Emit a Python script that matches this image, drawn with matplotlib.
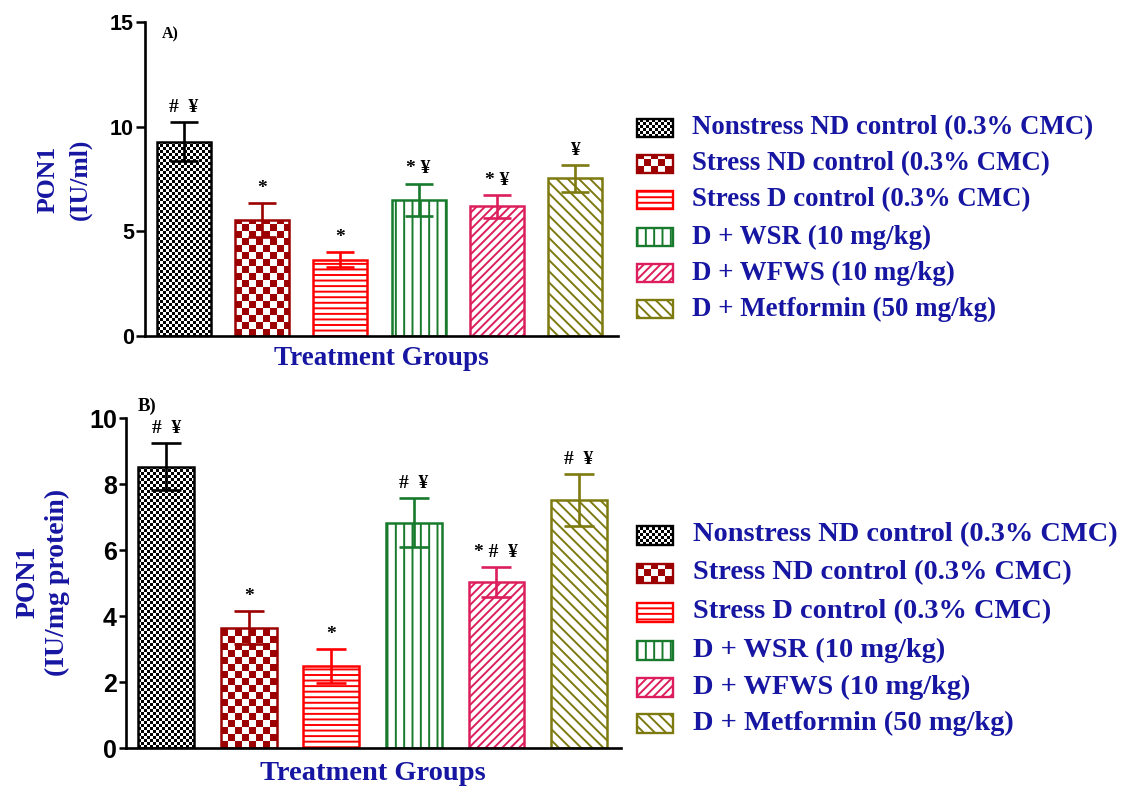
import numpy as np
import matplotlib
matplotlib.use("Agg")
import matplotlib.pyplot as plt
from matplotlib.patches import Rectangle
from matplotlib.colors import to_rgb

# ---------------- data ----------------
groups = [
    "Nonstress ND control (0.3% CMC)",
    "Stress ND control (0.3% CMC)",
    "Stress D control (0.3% CMC)",
    "D + WSR (10 mg/kg)",
    "D + WFWS (10 mg/kg)",
    "D + Metformin (50 mg/kg)",
]
pon1_serum = [9.28, 5.54, 3.65, 6.50, 6.20, 7.53]          # IU/ml
pon1_serum_sem = [0.93, 0.80, 0.35, 0.78, 0.54, 0.65]
pon1_tissue = [8.52, 3.65, 2.49, 6.83, 5.02, 7.52]         # IU/mg protein
pon1_tissue_sem = [0.71, 0.50, 0.51, 0.74, 0.45, 0.78]
marks_serum = ["#  \u00a5", "*", "*", "* \u00a5", "* \u00a5", "\u00a5"]
marks_tissue = ["#  \u00a5", "*", "*", "#  \u00a5", "* #  \u00a5", "#  \u00a5"]
yticks_serum = [0, 5, 10, 15]
yticks_tissue = [0, 2, 4, 6, 8, 10]

# ---------------- style ----------------
colors = ["#000000", "#9c0000", "#ff0000", "#177a2c", "#dc1f5c", "#7d7a10"]
fills = [("checker", 3), ("checker", 7), "---", "||", "////", "\\" * 3]
TEXT_BLUE = "#1616a2"
SERIF = "Liberation Serif"
SANS = "Liberation Sans"

W, H = 1124, 787
DPI = 100
plt.rcParams["hatch.linewidth"] = 1.4
fig = plt.figure(figsize=(W / DPI, H / DPI), dpi=DPI)


def fx(px):
    return px / W


def fy(py_top):
    return 1 - py_top / H


def checker_rgb(h, w, cell, color):
    yy, xx = np.mgrid[0:h, 0:w]
    mask = ((yy // cell) + (xx // cell)) % 2 == 0
    rgb = np.ones((h, w, 3))
    rgb[mask] = to_rgb(color)
    return rgb


def put_checker(x0, y0, x1, y1, cell, color):
    """Fill a display-pixel box (origin bottom-left) with a checkerboard."""
    xo, yo = int(round(x0)), int(round(y0))
    w, h = int(round(x1)) - xo, int(round(y1)) - yo
    if w > 0 and h > 0:
        fig.figimage(checker_rgb(h, w, cell, color), xo=xo, yo=yo,
                     origin="lower", zorder=0.5)


def panel(rect_px, values, sems, marks, yticks, ylim, xlim, width,
          ylab, ylab_xy, ylab_size, ylab_spacing, xlab_xy, xlab_size,
          tag, tag_xy, tag_size, tick_size, tick_len, capsize, mark_size):
    left, top, right, bottom = rect_px
    ax = fig.add_axes([fx(left), fy(bottom), fx(right - left), (bottom - top) / H])
    ax.set_zorder(1)
    ax.patch.set_visible(False)
    ax.set_xlim(*xlim)
    ax.set_ylim(*ylim)
    x = np.arange(len(values))
    for i, (v, s) in enumerate(zip(values, sems)):
        c = colors[i]
        f = fills[i]
        if isinstance(f, tuple):
            ax.bar(x[i], v, width, facecolor="none", edgecolor=c,
                   linewidth=1.8, zorder=2)
            (px0, py0) = ax.transData.transform((x[i] - width / 2, 0))
            (px1, py1) = ax.transData.transform((x[i] + width / 2, v))
            put_checker(px0, py0, px1, py1, f[1], c)
        else:
            ax.bar(x[i], v, width, facecolor="white", edgecolor=c,
                   linewidth=1.8, hatch=f, zorder=2)
        ax.errorbar(x[i], v, yerr=s, fmt="none", ecolor=c, elinewidth=1.9,
                    capsize=capsize, capthick=1.9, zorder=3)
        ax.annotate(marks[i], xy=(x[i], v + s), xytext=(0, 4.5),
                    textcoords="offset points", ha="center", va="bottom",
                    fontsize=mark_size, fontweight="bold", family=SERIF,
                    color="black")
    for sp in ("top", "right"):
        ax.spines[sp].set_visible(False)
    for sp in ("left", "bottom"):
        ax.spines[sp].set_linewidth(1.9)
    ax.set_xticks([])
    ax.set_yticks(yticks)
    ax.tick_params(axis="y", length=tick_len, width=1.8, pad=1.5,
                   labelsize=tick_size)
    for lab in ax.get_yticklabels():
        lab.set_family(SANS)
        lab.set_fontweight("bold")
    fig.text(fx(ylab_xy[0]), fy(ylab_xy[1]), ylab, rotation=90, ha="center",
             va="center", multialignment="center", fontsize=ylab_size,
             fontweight="bold", family=SERIF, color=TEXT_BLUE,
             linespacing=ylab_spacing)
    fig.text(fx(xlab_xy[0]), fy(xlab_xy[1]), "Treatment Groups", ha="center",
             va="center", fontsize=xlab_size, fontweight="bold", family=SERIF,
             color=TEXT_BLUE)
    fig.text(fx(tag_xy[0]), fy(tag_xy[1]), tag, ha="center", va="center",
             fontsize=tag_size, fontweight="bold", family=SERIF, color="black")
    return ax


def legend(rows_y, box_x0, box_x1, box_h, text_x, size):
    for i, label in enumerate(groups):
        yc = rows_y[i]
        c = colors[i]
        f = fills[i]
        y_bot = H - (yc + box_h / 2)
        if isinstance(f, tuple):
            put_checker(box_x0, y_bot, box_x1, y_bot + box_h, f[1], c)
            r = Rectangle((fx(box_x0), fy(yc + box_h / 2)), fx(box_x1 - box_x0),
                          box_h / H, facecolor="none", edgecolor=c,
                          linewidth=1.7, transform=fig.transFigure, zorder=2)
        else:
            r = Rectangle((fx(box_x0), fy(yc + box_h / 2)), fx(box_x1 - box_x0),
                          box_h / H, facecolor="white", edgecolor=c,
                          linewidth=1.7, hatch=f, transform=fig.transFigure,
                          zorder=2)
        fig.add_artist(r)
        fig.text(fx(text_x), fy(yc), label, ha="left", va="center",
                 fontsize=size, fontweight="bold", family=SERIF,
                 color=TEXT_BLUE)


# Panel A: serum PON1
panel(rect_px=(145, 22, 618, 336), values=pon1_serum, sems=pon1_serum_sem,
      marks=marks_serum, yticks=yticks_serum, ylim=(0, 15), xlim=(-0.5, 5.55),
      width=0.69, ylab="PON1\n(IU/ml)", ylab_xy=(64, 179), ylab_size=18.5,
      ylab_spacing=1.5, xlab_xy=(381, 358), xlab_size=19.5, tag="A)",
      tag_xy=(170, 34), tag_size=11.5, tick_size=15.5, tick_len=6.5,
      capsize=10, mark_size=14)
legend(rows_y=[128, 164, 200, 237, 273, 309], box_x0=637, box_x1=673,
       box_h=18, text_x=692, size=19.4)

# Panel B: tissue PON1
panel(rect_px=(126, 418, 621, 748), values=pon1_tissue, sems=pon1_tissue_sem,
      marks=marks_tissue, yticks=yticks_tissue, ylim=(0, 10),
      xlim=(-0.488, 5.51), width=0.675, ylab="PON1\n(IU/mg protein)",
      ylab_xy=(43, 582), ylab_size=20, ylab_spacing=1.25, xlab_xy=(373, 773),
      xlab_size=20.5, tag="B)", tag_xy=(147, 406), tag_size=13.5,
      tick_size=18, tick_len=5, capsize=11, mark_size=14)
legend(rows_y=[535, 573, 612, 650, 687, 723], box_x0=637, box_x1=673,
       box_h=19, text_x=693, size=20.4)

fig.savefig("out.png", dpi=DPI)
